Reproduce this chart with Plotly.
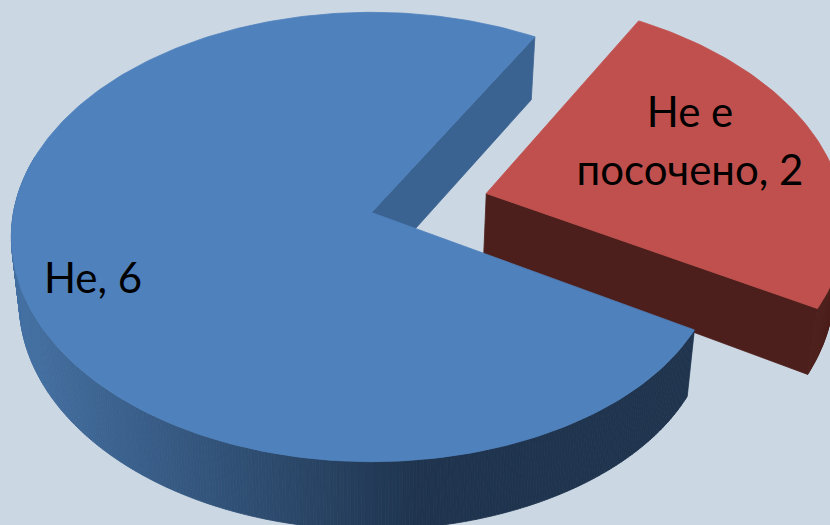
import math
import plotly.graph_objects as go

# Chart data
categories = ["Не е посочено", "Не"]
values = [2, 6]
label_lines = [["Не е", "посочено, 2"], ["Не, 6"]]

# Colours
BG = "#cbd7e3"
TOP = ["#c0504d", "#4f81bd"]
RADIAL = ["#4d1f1c", "#3b6391"]
RED_RIM = "#4d1f1c"
RIM_LIGHT = (68, 112, 162)
RIM_DARK = (31, 52, 78)

# Projection of the tilted disc
CX, CY = 371.5, 212.5
RX, RY = 358.0, 222.0
TILT = 0.109
FIRST_ANGLE = 30.0
EXPLODE = [0.335, 0.0]
WALL_X = 0.978
WALL_OFFSET = [(62.0, 0.04), (65.0, 0.012)]
RIGHT_TAPER = [0.0, 12.0]


def project(u, v):
    d = 1 - TILT * v
    return CX + RX * u / d, CY + RY * v / d


def rim_point(deg, shift, idx):
    a = math.radians(deg)
    u = shift[0] + math.sin(a)
    x, y = project(u, shift[1] - math.cos(a))
    # the near right edge of the disc narrows a little
    if u > 0:
        x -= RIGHT_TAPER[idx] * u ** 6
    return x, y


def drop(pt, idx):
    off, slope = WALL_OFFSET[idx]
    return CX + WALL_X * (pt[0] - CX), pt[1] + off + slope * (pt[1] - CY)


def poly(points, color):
    xs = [p[0] for p in points] + [points[0][0]]
    ys = [p[1] for p in points] + [points[0][1]]
    return go.Scatter(
        x=xs, y=ys, mode="lines", fill="toself", fillcolor=color,
        line=dict(color=color, width=0.8),
        hoverinfo="skip", showlegend=False,
    )


def rim_color(x, idx):
    if idx == 0:
        return RED_RIM
    t = min(max((x - 20) / 400.0, 0.0), 1.0)
    c = [round(a + (b - a) * t) for a, b in zip(RIM_LIGHT, RIM_DARK)]
    return "rgb({},{},{})".format(*c)


fig = go.Figure()
total = sum(values)
start = FIRST_ANGLE
for i, val in enumerate(values):
    sweep = 360.0 * val / total
    end = start + sweep
    mid = math.radians(start + sweep / 2)
    shift = (EXPLODE[i] * math.sin(mid), -EXPLODE[i] * math.cos(mid))
    apex = project(*shift)

    # outer wall, only the part that faces the viewer
    lo = max(start, 85.0)
    hi = min(end, 285.0)
    steps = max(2, int((hi - lo) / 0.5))
    for k in range(steps):
        p = rim_point(lo + (hi - lo) * k / steps, shift, i)
        q = rim_point(lo + (hi - lo) * (k + 1) / steps, shift, i)
        col = rim_color((p[0] + q[0]) / 2, i)
        fig.add_trace(poly([p, q, drop(q, i), drop(p, i)], col))

    # radial wall that stays visible after the slice is cut
    edge = rim_point(end, shift, i)
    fig.add_trace(poly([apex, edge, drop(edge, i), drop(apex, i)], RADIAL[i]))

    # top face
    n = int(sweep)
    top = [apex] + [rim_point(start + sweep * k / n, shift, i) for k in range(n + 1)]
    fig.add_trace(poly(top, TOP[i]))
    start = end

# Data labels
label_x = [690, 93]
label_y = [[116, 174], [282]]
for i, lines in enumerate(label_lines):
    fig.add_trace(go.Scatter(
        x=[label_x[i]] * len(lines), y=label_y[i], text=lines,
        mode="text", textposition="middle center",
        textfont=dict(family="Lato, sans-serif", size=42, color="#000000"),
        hoverinfo="skip", showlegend=False,
    ))

fig.update_layout(
    width=830, height=525, autosize=False,
    margin=dict(l=0, r=0, t=0, b=0),
    paper_bgcolor=BG, plot_bgcolor=BG,
    xaxis=dict(range=[0, 830], visible=False, fixedrange=True),
    yaxis=dict(range=[525, 0], visible=False, fixedrange=True),
)
fig.write_html("out.html", config={"displayModeBar": False})
